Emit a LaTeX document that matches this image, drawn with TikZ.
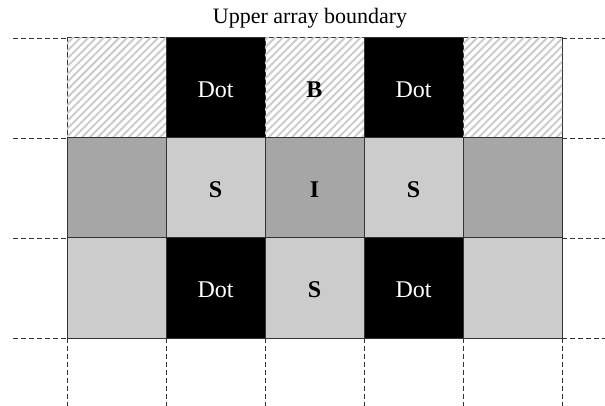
\documentclass[tikz,border=0pt]{standalone}
\usepackage{fontspec}
\setmainfont{Liberation Serif}
\usetikzlibrary{patterns.meta}
\definecolor{dgrey}{HTML}{A6A6A6}
\definecolor{lgrey}{HTML}{CCCCCC}
\begin{document}
\begin{tikzpicture}[x=1pt,y=-1pt,
  cellbox/.style={draw=black!80, line width=1pt, minimum width=99pt, minimum height=100pt, inner sep=0pt, outer sep=0pt, anchor=north west, text height=19pt, text depth=0pt, font=\fontsize{24}{28}\selectfont},
  hatchbox/.style={cellbox, fill=white, postaction={pattern={Lines[angle=45,distance=5.5pt,line width=2pt]}, pattern color=lgrey}},
  blackbox/.style={cellbox, fill=black, text=white},
  darkbox/.style={cellbox, fill=dgrey},
  lightbox/.style={cellbox, fill=lgrey},
  guide/.style={draw=black!80, dash pattern=on 5pt off 3pt, line width=0.7pt}]
\useasboundingbox (0,0) rectangle (605,406);
\node[font=\fontsize{22}{26}\selectfont] (title) at (310,18) {Upper array boundary};
% row 1
\node[hatchbox] (a1) at (67,38) {};
\node[blackbox] (a2) at (166,38) {Dot};
\node[hatchbox] (a3) at (265,38) {\textbf{B}};
\node[blackbox] (a4) at (364,38) {Dot};
\node[hatchbox] (a5) at (463,38) {};
% row 2
\node[darkbox] (b1) at (67,138) {};
\node[lightbox] (b2) at (166,138) {\textbf{S}};
\node[darkbox] (b3) at (265,138) {\textbf{I}};
\node[lightbox] (b4) at (364,138) {\textbf{S}};
\node[darkbox] (b5) at (463,138) {};
% row 3
\node[lightbox] (c1) at (67,238) {};
\node[blackbox] (c2) at (166,238) {Dot};
\node[lightbox] (c3) at (265,238) {\textbf{S}};
\node[blackbox] (c4) at (364,238) {Dot};
\node[lightbox] (c5) at (463,238) {};
% horizontal guides
\coordinate (l1) at (13,38); \coordinate (r1) at (605,38);
\coordinate (l2) at (13,138); \coordinate (r2) at (605,138);
\coordinate (l3) at (13,238); \coordinate (r3) at (605,238);
\coordinate (l4) at (13,338); \coordinate (r4) at (605,338);
\draw[guide] (l1) -- (a1.north west); \draw[guide] (a5.north east) -- (r1);
\draw[guide] (l2) -- (b1.north west); \draw[guide] (b5.north east) -- (r2);
\draw[guide] (l3) -- (c1.north west); \draw[guide] (c5.north east) -- (r3);
\draw[guide] (l4) -- (c1.south west); \draw[guide] (c5.south east) -- (r4);
% vertical guides
\foreach \n in {c1,c2,c3,c4,c5} {
  \coordinate (\n-end) at ([yshift=-70pt]\n.south west);
  \draw[guide] (\n.south west) -- (\n-end);
}
\coordinate (c5-end2) at ([yshift=-70pt]c5.south east);
\draw[guide] (c5.south east) -- (c5-end2);
\end{tikzpicture}
\end{document}
